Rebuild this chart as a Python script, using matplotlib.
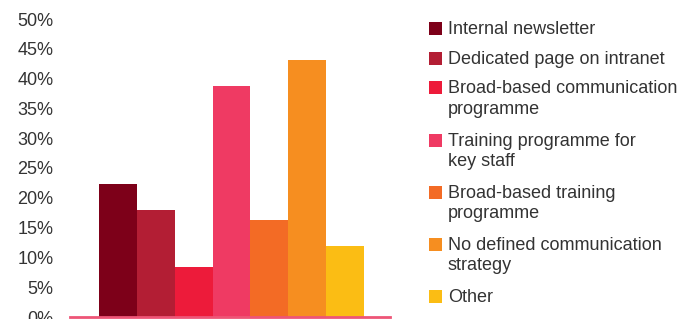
import matplotlib
matplotlib.use("Agg")
import matplotlib.pyplot as plt
from matplotlib.patches import Rectangle

plt.rcParams['font.family'] = ['Liberation Sans', 'DejaVu Sans']

categories = [
    "Internal newsletter",
    "Dedicated page on intranet",
    "Broad-based communication\nprogramme",
    "Training programme for\nkey staff",
    "Broad-based training\nprogramme",
    "No defined communication\nstrategy",
    "Other",
]
values = [22.3, 18.0, 8.4, 38.8, 16.3, 43.1, 11.9]
colors = ["#7D0019", "#B31E34", "#ED1B3A", "#EF3A63", "#F36B25", "#F68E20", "#FBBD14"]
yticks = [0, 5, 10, 15, 20, 25, 30, 35, 40, 45, 50]
ytick_labels = [f"{t}%" for t in yticks]

W, H = 687, 319
fig = plt.figure(figsize=(W / 100, H / 100), dpi=100)
ax = fig.add_axes([70 / W, 2 / H, 320 / W, 298 / H])

x = list(range(len(values)))
ax.bar(x, values, width=1.0, color=colors, zorder=2)
ax.set_xlim(-1.27, 7.19)
ax.set_ylim(0, 50)
ax.set_yticks(yticks)
ax.set_yticklabels(ytick_labels, fontsize=13, color="#333333")
ax.set_xticks([])
for s in ["top", "right", "left"]:
    ax.spines[s].set_visible(False)
ax.spines["bottom"].set_color("#EE5577")
ax.spines["bottom"].set_linewidth(2)
ax.spines["bottom"].set_zorder(3)
ax.tick_params(axis="y", length=0, pad=12)
ax.set_facecolor("none")

# legend drawn manually
y = 28
sq = 13
for label, c in zip(categories, colors):
    n = label.count("\n") + 1
    fig.patches.append(Rectangle((429 / W, 1 - (y + sq / 2) / H), sq / W, sq / H,
                                 transform=fig.transFigure, facecolor=c, edgecolor="none"))
    fig.text(448 / W, 1 - (y - 7.5) / H, label, fontsize=13, color="#333333",
             va="top", ha="left", linespacing=1.3)
    y += 30 + 22 * (n - 1)

fig.savefig("out.png", dpi=100)
